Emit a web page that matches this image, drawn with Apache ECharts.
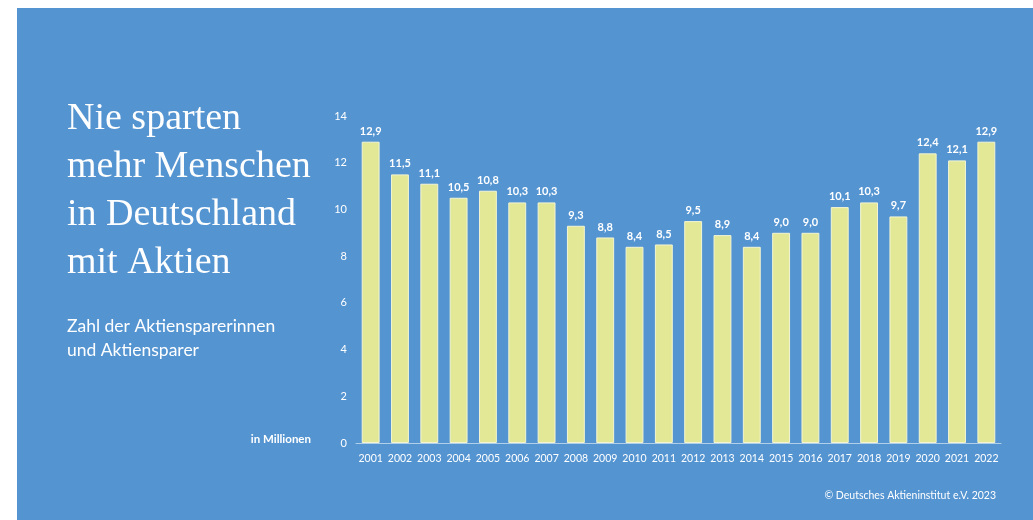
<!DOCTYPE html>
<html><head><meta charset="utf-8">
<script src="https://cdn.jsdelivr.net/npm/echarts@6/dist/echarts.min.js"></script>
<style>html,body{margin:0;padding:0;background:#fff}#c{width:1033px;height:520px}</style>
</head><body><div id="c"></div>
<script>
const years = ['2001','2002','2003','2004','2005','2006','2007','2008','2009','2010','2011','2012','2013','2014','2015','2016','2017','2018','2019','2020','2021','2022'];
const savers = [12.9,11.5,11.1,10.5,10.8,10.3,10.3,9.3,8.8,8.4,8.5,9.5,8.9,8.4,9.0,9.0,10.1,10.3,9.7,12.4,12.1,12.9];
const titleLines = ['Nie sparten','mehr Menschen','in Deutschland','mit Aktien'];
const subtitleLines = ['Zahl der Aktiensparerinnen','und Aktiensparer'];
const unitLabel = 'in Millionen';
const sourceLabel = '© Deutsches Aktieninstitut e.V. 2023';

const chart = echarts.init(document.getElementById('c'));
const sans = 'Lato';
chart.setOption({
  backgroundColor: '#ffffff',
  animation: false,
  graphic: [
    {type:'rect', z:-10, shape:{x:17,y:8,width:1016,height:512}, style:{fill:'#5494D1'}},
    {type:'text', left:67, top:95, style:{text:titleLines.join('\n'), fill:'#ffffff', font:'38px "Liberation Serif"', lineHeight:48}},
    {type:'text', left:67, top:314, style:{text:subtitleLines.join('\n'), fill:'#ffffff', font:'17.5px '+sans, lineHeight:24}},
    {type:'text', right:722, top:433, style:{text:unitLabel, fill:'#ffffff', font:'bold 11.5px '+sans, textAlign:'right'}},
    {type:'text', right:37, top:490, style:{text:sourceLabel, fill:'#ffffff', font:'10.5px '+sans}}
  ],
  grid: {left:356, right:32, top:116, bottom:77},
  xAxis: {
    type:'category', data: years,
    axisLine:{lineStyle:{color:'rgba(255,255,255,0.55)', width:1}},
    axisTick:{show:false},
    axisLabel:{color:'#ffffff', fontSize:10.5, fontFamily:sans, margin:10, interval:0}
  },
  yAxis: {
    type:'value', min:0, max:14, interval:2,
    axisLine:{show:false}, axisTick:{show:false}, splitLine:{show:false},
    axisLabel:{color:'#ffffff', fontSize:11, fontFamily:sans, margin:9}
  },
  series: [{
    type:'bar', data: savers, barCategoryGap:'39%',
    itemStyle:{color:'#E3E897', borderColor:'#F3F5D2', borderWidth:1},
    label:{show:true, position:'top', distance:5, color:'#ffffff', fontWeight:'bold', fontSize:11, fontFamily:sans,
      formatter: p => p.value.toFixed(1).replace('.', ',')}
  }]
});
</script></body></html>
